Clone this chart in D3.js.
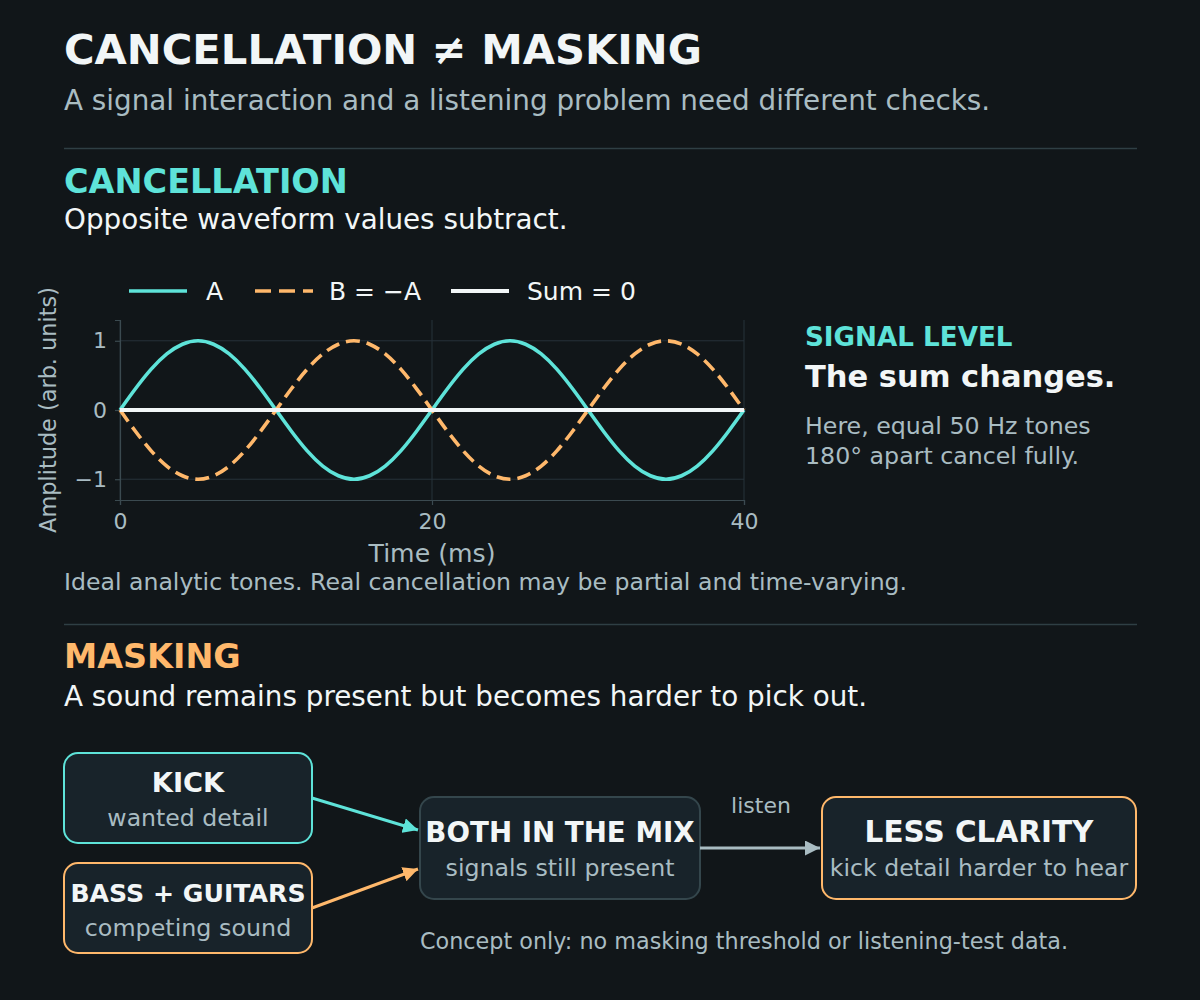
<!DOCTYPE html>
<html>
<head>
<meta charset="utf-8">
<script src="https://cdn.jsdelivr.net/npm/d3@7"></script>
<style>
  html, body { margin: 0; padding: 0; background: #111619; }
  svg { display: block; }
</style>
</head>
<body>
<div id="chart"></div>
<script>
// ---- Data ----
const TIME_MS = [0,1,2,3,4,5,6,7,8,9,10,11,12,13,14,15,16,17,18,19,20,
                 21,22,23,24,25,26,27,28,29,30,31,32,33,34,35,36,37,38,39,40];
const SERIES_A = [0,0.31,0.59,0.81,0.95,1,0.95,0.81,0.59,0.31,0,-0.31,-0.59,-0.81,-0.95,-1,-0.95,-0.81,-0.59,-0.31,0,
                  0.31,0.59,0.81,0.95,1,0.95,0.81,0.59,0.31,0,-0.31,-0.59,-0.81,-0.95,-1,-0.95,-0.81,-0.59,-0.31,0];
const SERIES_B = [0,-0.31,-0.59,-0.81,-0.95,-1,-0.95,-0.81,-0.59,-0.31,0,0.31,0.59,0.81,0.95,1,0.95,0.81,0.59,0.31,0,
                  -0.31,-0.59,-0.81,-0.95,-1,-0.95,-0.81,-0.59,-0.31,0,0.31,0.59,0.81,0.95,1,0.95,0.81,0.59,0.31,0];
const SERIES_SUM = [0,0,0,0,0,0,0,0,0,0,0,0,0,0,0,0,0,0,0,0,0,0,0,0,0,0,0,0,0,0,0,0,0,0,0,0,0,0,0,0,0];
const X_TICKS = [0, 20, 40];
const Y_TICKS = [1, 0, -1];
const LEGEND_LABELS = ['A', 'B = \u2212A', 'Sum = 0'];

const C = {
  bg: '#111619', box: '#18232a', teal: '#5ee3d9', orange: '#ffb86b',
  white: '#f2f6f7', grey: '#a9bcc2', rule: '#2f3f44', grid: '#27323a', spine: '#3b4a50',
};
const FONT = "'DejaVu Sans', sans-serif";

const W = 1200, H = 1000;
const svg = d3.select('#chart').append('svg').attr('width', W).attr('height', H);
svg.append('rect').attr('width', W).attr('height', H).attr('fill', C.bg);

function txt(x, y, s, o = {}) {
  return svg.append('text')
    .attr('x', x).attr('y', y)
    .attr('fill', o.fill || C.white)
    .attr('text-anchor', o.anchor || 'start')
    .style('font-family', FONT)
    .style('font-size', (o.size || 20) + 'px')
    .style('font-weight', o.bold ? 'bold' : 'normal')
    .text(s);
}

// ---- Header ----
txt(64, 64, 'CANCELLATION \u2260 MASKING', { size: 41.7, bold: true });
txt(64, 110, 'A signal interaction and a listening problem need different checks.', { size: 27.8, fill: C.grey });
svg.append('line').attr('x1', 64).attr('x2', 1137).attr('y1', 148.5).attr('y2', 148.5)
  .attr('stroke', C.rule).attr('stroke-width', 1.5);

// ---- Cancellation section ----
txt(64, 193, 'CANCELLATION', { size: 33.5, bold: true, fill: C.teal });
txt(64, 229, 'Opposite waveform values subtract.', { size: 27.8 });

const m = { left: 120, top: 320, w: 624, h: 180 };
const x = d3.scaleLinear().domain([0, 40]).range([m.left, m.left + m.w]);
const y = d3.scaleLinear().domain([-1.3, 1.3]).range([m.top + m.h, m.top]);

const plot = svg.append('g');
// grid
plot.selectAll('.gy').data(Y_TICKS).enter().append('line')
  .attr('x1', x(0)).attr('x2', x(40)).attr('y1', d => y(d)).attr('y2', d => y(d))
  .attr('stroke', C.grid).attr('stroke-width', 1);
plot.selectAll('.gx').data(X_TICKS).enter().append('line')
  .attr('x1', d => x(d)).attr('x2', d => x(d)).attr('y1', y(1.3)).attr('y2', y(-1.3))
  .attr('stroke', C.grid).attr('stroke-width', 1);

// axes
const xAxis = plot.append('g').attr('transform', `translate(0,${y(-1.3)})`)
  .call(d3.axisBottom(x).tickValues(X_TICKS).tickSize(5).tickPadding(8));
const yAxis = plot.append('g').attr('transform', `translate(${x(0)},0)`)
  .call(d3.axisLeft(y).tickValues(Y_TICKS).tickSize(5).tickPadding(8)
    .tickFormat(d => d < 0 ? '\u2212' + Math.abs(d) : d));
[xAxis, yAxis].forEach(a => {
  a.select('.domain').attr('stroke', C.spine).attr('stroke-width', 1.2);
  a.selectAll('.tick line').attr('stroke', C.spine).attr('stroke-width', 1.2);
  a.selectAll('.tick text').attr('fill', C.grey)
    .style('font-family', FONT).style('font-size', '22px');
});

// axis labels
txt(x(20), 562, 'Time (ms)', { size: 25.2, fill: C.grey, anchor: 'middle' });
svg.append('text')
  .attr('transform', `translate(56,${y(0)}) rotate(-90)`)
  .attr('text-anchor', 'middle')
  .attr('fill', C.grey)
  .style('font-family', FONT).style('font-size', '22.4px')
  .text('Amplitude (arb. units)');

// lines
const clipId = 'plotclip';
svg.append('clipPath').attr('id', clipId).append('rect')
  .attr('x', m.left - 2).attr('y', m.top).attr('width', m.w + 4).attr('height', m.h);
const line = d3.line().x((d, i) => x(TIME_MS[i])).y(d => y(d)).curve(d3.curveNatural);
const series = [
  { data: SERIES_A, color: C.teal, dash: null, width: 3.6 },
  { data: SERIES_B, color: C.orange, dash: '14,7', width: 3.6 },
  { data: SERIES_SUM, color: C.white, dash: null, width: 4 },
];
series.forEach(s => {
  plot.append('path').datum(s.data)
    .attr('d', line)
    .attr('fill', 'none')
    .attr('stroke', s.color)
    .attr('stroke-width', s.width)
    .attr('stroke-dasharray', s.dash)
    .attr('clip-path', `url(#${clipId})`);
});

// legend
const legendX = [129, 255, 451];
const legendTextX = [206, 329, 527];
series.forEach((s, i) => {
  svg.append('line')
    .attr('x1', legendX[i]).attr('x2', legendX[i] + 58)
    .attr('y1', 291).attr('y2', 291)
    .attr('stroke', s.color).attr('stroke-width', s.width)
    .attr('stroke-dasharray', i === 1 ? '16,8' : null);
  txt(legendTextX[i], 300, LEGEND_LABELS[i], { size: 25, fill: C.white });
});

// right-hand note
txt(805, 346, 'SIGNAL LEVEL', { size: 26.2, bold: true, fill: C.teal });
txt(805, 387, 'The sum changes.', { size: 30.5, bold: true });
txt(805, 434, 'Here, equal 50 Hz tones', { size: 23.7, fill: C.grey });
txt(805, 464, '180\u00b0 apart cancel fully.', { size: 23.7, fill: C.grey });

txt(64, 590, 'Ideal analytic tones. Real cancellation may be partial and time-varying.', { size: 23.6, fill: C.grey });
svg.append('line').attr('x1', 64).attr('x2', 1137).attr('y1', 624.5).attr('y2', 624.5)
  .attr('stroke', C.rule).attr('stroke-width', 1.5);

// ---- Masking section ----
txt(64, 668, 'MASKING', { size: 33.4, bold: true, fill: C.orange });
txt(64, 706, 'A sound remains present but becomes harder to pick out.', { size: 27.8 });

const defs = svg.append('defs');
[['teal', C.teal], ['orange', C.orange], ['grey', C.grey]].forEach(([k, col]) => {
  defs.append('marker').attr('id', 'arr-' + k)
    .attr('viewBox', '0 0 10 10').attr('refX', 10).attr('refY', 5)
    .attr('markerWidth', 5).attr('markerHeight', 5).attr('markerUnits', 'strokeWidth')
    .attr('orient', 'auto')
    .append('path').attr('d', 'M0,0 L10,5 L0,10 z').attr('fill', col);
});

const boxes = [
  { x: 64, y: 753, w: 248, h: 90, stroke: C.teal, title: 'KICK', sub: 'wanted detail', ts: 27.3, ss: 23.6 },
  { x: 64, y: 863, w: 248, h: 90, stroke: C.orange, title: 'BASS + GUITARS', sub: 'competing sound', ts: 25.2, ss: 23.8 },
  { x: 420, y: 797, w: 280, h: 102, stroke: '#34464c', title: 'BOTH IN THE MIX', sub: 'signals still present', ts: 27.7, ss: 23.7 },
  { x: 822, y: 797, w: 314, h: 102, stroke: C.orange, title: 'LESS CLARITY', sub: 'kick detail harder to hear', ts: 29.5, ss: 23.6 },
];
boxes.forEach(b => {
  svg.append('rect')
    .attr('x', b.x).attr('y', b.y).attr('width', b.w).attr('height', b.h)
    .attr('rx', 14).attr('fill', C.box)
    .attr('stroke', b.stroke).attr('stroke-width', 2);
  const cx = b.x + b.w / 2;
  const cy = b.y + b.h / 2;
  txt(cx, cy - 6, b.title, { size: b.ts, bold: true, anchor: 'middle' });
  txt(cx, cy + 28, b.sub, { size: b.ss, fill: C.grey, anchor: 'middle' });
});

// arrows
const arrows = [
  { x1: 312, y1: 798, x2: 418, y2: 830, col: C.teal, k: 'teal' },
  { x1: 312, y1: 908, x2: 418, y2: 869, col: C.orange, k: 'orange' },
  { x1: 700, y1: 848, x2: 820, y2: 848, col: C.grey, k: 'grey' },
];
arrows.forEach(a => {
  svg.append('line')
    .attr('x1', a.x1).attr('y1', a.y1).attr('x2', a.x2).attr('y2', a.y2)
    .attr('stroke', a.col).attr('stroke-width', 3)
    .attr('marker-end', `url(#arr-${a.k})`);
});
txt(761, 813, 'listen', { size: 22, fill: C.grey, anchor: 'middle' });

txt(420, 949, 'Concept only: no masking threshold or listening-test data.', { size: 22.3, fill: C.grey });
</script>
</body>
</html>
